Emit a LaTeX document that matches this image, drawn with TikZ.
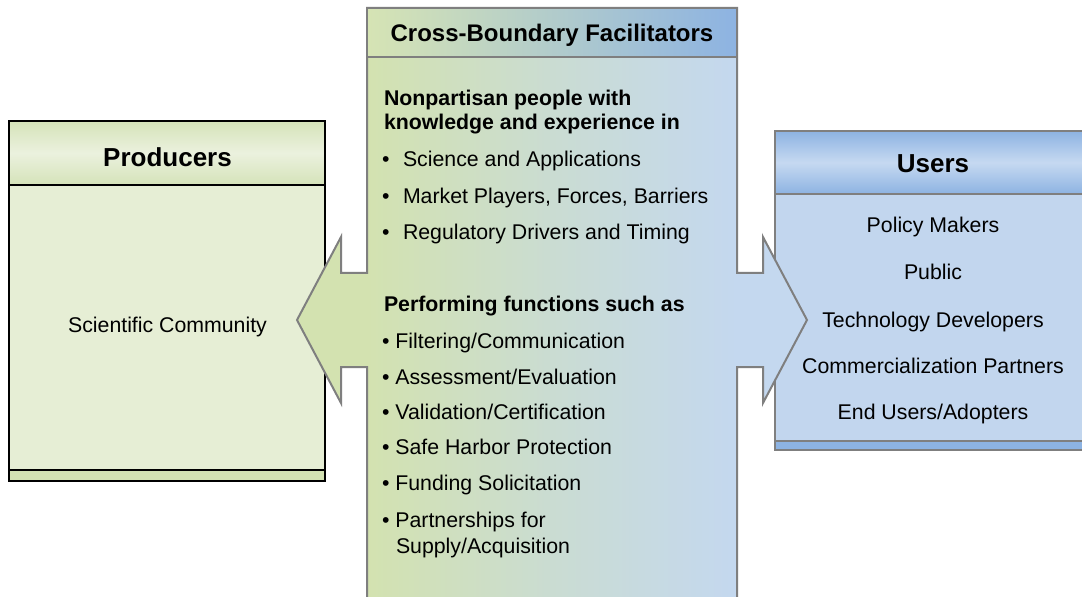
\documentclass[tikz,border=0pt]{standalone}
\usepackage{fontspec}
\setmainfont{Liberation Sans}
\definecolor{pgreenA}{HTML}{D5E3B9}
\definecolor{pgreenB}{HTML}{EBF1DE}
\definecolor{pbody}{HTML}{E6EED5}
\definecolor{pstrip}{HTML}{D3E2B2}
\definecolor{ublueA}{HTML}{8DB3E2}
\definecolor{ublueB}{HTML}{C6D9F1}
\definecolor{ubody}{HTML}{C2D6EE}
\definecolor{fgreen}{HTML}{D3E2B0}
\definecolor{fmid}{HTML}{CADCD2}
\definecolor{fblue}{HTML}{C4D8EF}
\definecolor{hgreen}{HTML}{D6E4B4}
\definecolor{hblue}{HTML}{8DB3E2}
\definecolor{edgegray}{HTML}{7F7F7F}
\pgfdeclarehorizontalshading{facil}{100bp}{color(0bp)=(fgreen); color(31.9bp)=(fgreen); color(50bp)=(fmid); color(68.1bp)=(fblue); color(100bp)=(fblue)}
\newcommand\fbody{\fontsize{21.3bp}{25bp}\selectfont}
\newcommand\fhead{\fontsize{26bp}{30bp}\selectfont\bfseries}
\newcommand\fchead{\fontsize{24bp}{28bp}\selectfont\bfseries}
\tikzset{
  edge/.style={line width=2bp},
  txt/.style={inner sep=0pt, outer sep=0pt, font=\fbody, text=black},
  lefttxt/.style={txt, anchor=base west},
  midtxt/.style={txt, anchor=base},
}
\begin{document}
\begin{tikzpicture}[x=1bp,y=-1bp]
\useasboundingbox (0,0) rectangle (1082,597);
\clip (0,0) rectangle (1082,597);
\fill[white] (0,0) rectangle (1082,597);
% Producers box
\shade[top color=pgreenA, bottom color=pgreenA, middle color=pgreenB] (9,121) rectangle (325,185);
\fill[pbody] (9,185) rectangle (325,470);
\fill[pstrip] (9,470) rectangle (325,481);
\draw[edge, black] (9,121) rectangle (325,481);
\draw[edge, black] (9,185) -- (325,185);
\draw[edge, black] (9,470) -- (325,470);
% Users box
\shade[top color=ublueA, bottom color=ublueA, middle color=ublueB] (775,131) rectangle (1090,194);
\fill[ubody] (775,194) rectangle (1090,441);
\fill[ublueA] (775,441) rectangle (1090,450);
\draw[edge, edgegray] (1090,131) -- (775,131) -- (775,450) -- (1090,450);
\draw[edge, edgegray] (775,194) -- (1090,194);
\draw[edge, edgegray] (775,441) -- (1090,441);
% Central facilitator shape with double arrow
\shadedraw[shading=facil, draw=edgegray, edge, line join=miter]
  (367,8) -- (737,8) -- (737,273) -- (763,273) -- (763,237) -- (807,320)
  -- (763,403) -- (763,367) -- (737,367) -- (737,610) -- (367,610)
  -- (367,367) -- (341,367) -- (341,403) -- (297,320) -- (341,237)
  -- (341,273) -- (367,273) -- cycle;
\shadedraw[left color=hgreen, right color=hblue, draw=edgegray, edge] (367,8) rectangle (737,57);
% Producers texts
\node[midtxt, font=\fhead] (ptitle) at (167.5,167) {Producers};
\node[midtxt] (psci) at (167.5,332) {Scientific Community};
% Users texts
\node[midtxt, font=\fhead] (utitle) at (933,173) {Users};
\node[midtxt] (u1) at (933,233) {Policy Makers};
\node[midtxt] (u2) at (933,280) {Public};
\node[midtxt] (u3) at (933,327) {Technology Developers};
\node[midtxt] (u4) at (933,373) {Commercialization Partners};
\node[midtxt] (u5) at (933,419) {End Users/Adopters};
% Facilitator texts
\node[midtxt, font=\fchead] (ftitle) at (552,42) {Cross-Boundary Facilitators};
\node[lefttxt, font=\fbody\bfseries] (k1) at (384,105.5) {Nonpartisan people with};
\node[lefttxt, font=\fbody\bfseries] (k2) at (384,129.5) {knowledge and experience in};
\node[lefttxt] (b1) at (382,167) {•};
\node[lefttxt] (k3) at (403,167) {Science and Applications};
\node[lefttxt] (b2) at (382,203.5) {•};
\node[lefttxt] (k4) at (403,203.5) {Market Players, Forces, Barriers};
\node[lefttxt] (b3) at (382,239.5) {•};
\node[lefttxt] (k5) at (403,239.5) {Regulatory Drivers and Timing};
\node[lefttxt, font=\fbody\bfseries] (f0) at (384,312) {Performing functions such as};
\node[lefttxt] (f1) at (382,348.5) {• Filtering/Communication};
\node[lefttxt] (f2) at (382,384.5) {• Assessment/Evaluation};
\node[lefttxt] (f3) at (382,419) {• Validation/Certification};
\node[lefttxt] (f4) at (382,454.5) {• Safe Harbor Protection};
\node[lefttxt] (f5) at (382,490) {• Funding Solicitation};
\node[lefttxt] (f6) at (382,527) {• Partnerships for};
\node[lefttxt] (f7) at (396,553.5) {Supply/Acquisition};
\end{tikzpicture}
\end{document}
